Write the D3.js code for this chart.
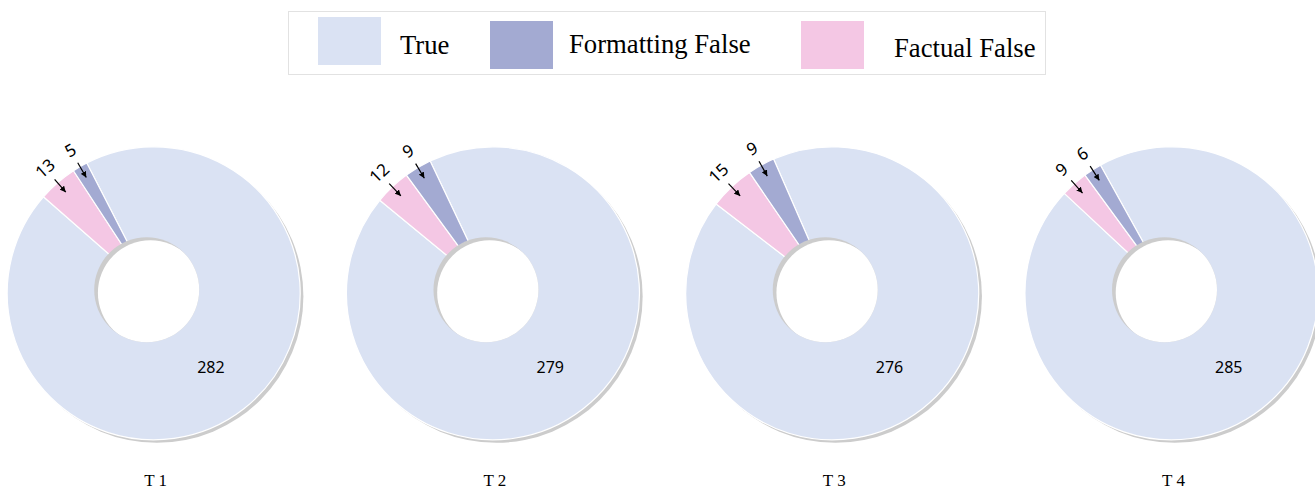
<!DOCTYPE html>
<html><head><meta charset="utf-8">
<script src="https://cdn.jsdelivr.net/npm/d3@7"></script>
<style>body{margin:0;background:#fff}svg{display:block}</style>
</head><body><svg id="c" width="1315" height="489"></svg>
<script>
const titles = ["T 1", "T 2", "T 3", "T 4"];
const categories = ["True", "Formatting False", "Factual False"];
const trueVals = [282, 279, 276, 285];
const formattingVals = [5, 9, 9, 6];
const factualVals = [13, 12, 15, 9];
const colors = {"True": "#dae2f3", "Formatting False": "#a3aad2", "Factual False": "#f4c7e4"};

const svg = d3.select("#c");
const defs = svg.append("defs");
defs.append("marker").attr("id", "arr").attr("viewBox", "0 0 10 10")
  .attr("refX", 10).attr("refY", 5).attr("markerWidth", 6).attr("markerHeight", 6)
  .attr("markerUnits", "userSpaceOnUse").attr("orient", "auto")
  .append("path").attr("d", "M0,0 L10,5 L0,10 z").attr("fill", "#000");

// Legend
const lg = svg.append("g");
lg.append("rect").attr("x", 288.5).attr("y", 11.5).attr("width", 757).attr("height", 63)
  .attr("fill", "#fff").attr("stroke", "#e2e2e2");
const legendItems = [
  {sx: 318, sy: 17, tx: 400, ty: 54},
  {sx: 490, sy: 21, tx: 569, ty: 53},
  {sx: 801, sy: 21, tx: 894, ty: 57}
];
categories.forEach((c, i) => {
  const it = legendItems[i];
  lg.append("rect").attr("x", it.sx).attr("y", it.sy).attr("width", 63).attr("height", 48)
    .attr("fill", colors[c]);
  lg.append("text").attr("x", it.tx).attr("y", it.ty).text(c)
    .attr("font-family", "Liberation Serif, Times New Roman, serif").attr("font-size", 26.7).attr("fill", "#000");
});

const R = 146.5, rHole = 52.5, cy = 293.3;
const holeOff = [-7, -3.5], shOff = [3.2, 3];
const x = d3.scalePoint().domain(titles).range([153.7, 1171.5]);
const groupCenter = -38 * Math.PI / 180;
const arc = d3.arc().innerRadius(0).outerRadius(R);

titles.forEach((t, i) => {
  const total = trueVals[i] + formattingVals[i] + factualVals[i];
  const data = [
    {cat: "True", value: trueVals[i]},
    {cat: "Factual False", value: factualVals[i]},
    {cat: "Formatting False", value: formattingVals[i]}
  ];
  const small = (formattingVals[i] + factualVals[i]) / total * 2 * Math.PI;
  const s = groupCenter + small / 2;
  const pie = d3.pie().sort(null).value(d => d.value).startAngle(s).endAngle(s + 2 * Math.PI);
  const arcs = pie(data);
  const cx = x(t);
  const g = svg.append("g").attr("transform", `translate(${cx},${cy})`);

  // shadow
  g.append("circle").attr("cx", shOff[0]).attr("cy", shOff[1]).attr("r", R).attr("fill", "#cccccc");
  // wedges
  g.selectAll("path.w").data(arcs).join("path").attr("class", "w")
    .attr("d", arc).attr("fill", d => colors[d.data.cat])
    .attr("stroke", "#fff").attr("stroke-width", 1.2).attr("stroke-linejoin", "round");
  // hole with inner shadow
  const hx = holeOff[0], hy = holeOff[1];
  const cid = "hole" + i;
  defs.append("clipPath").attr("id", cid).append("circle").attr("cx", cx + hx).attr("cy", cy + hy).attr("r", rHole);
  g.append("circle").attr("cx", hx).attr("cy", hy).attr("r", rHole).attr("fill", "#cccccc");
  svg.append("circle").attr("clip-path", `url(#${cid})`)
    .attr("cx", cx + hx + shOff[0] + 0.5).attr("cy", cy + hy + shOff[1]).attr("r", rHole).attr("fill", "#fff");

  // labels
  arcs.forEach(a => {
    const mid = (a.startAngle + a.endAngle) / 2;
    const px = r => Math.sin(mid) * r, py = r => -Math.cos(mid) * r;
    if (a.data.cat === "True") {
      g.append("text").attr("x", px(93)).attr("y", py(93)).text(a.data.value)
        .attr("text-anchor", "middle").attr("dominant-baseline", "central")
        .attr("font-family", "Noto Sans, sans-serif").attr("font-size", 16).attr("fill", "#000");
    } else {
      g.append("line").attr("x1", px(151)).attr("y1", py(151)).attr("x2", px(134)).attr("y2", py(134))
        .attr("stroke", "#000").attr("stroke-width", 1.2).attr("marker-end", "url(#arr)");
      g.append("text").attr("transform", `translate(${px(166)},${py(166)}) rotate(${mid * 180 / Math.PI})`)
        .text(a.data.value).attr("text-anchor", "middle").attr("dominant-baseline", "central")
        .attr("font-family", "Noto Sans, sans-serif").attr("font-size", 17).attr("fill", "#000");
    }
  });

  svg.append("text").attr("x", cx + 2).attr("y", 486).text(t).attr("text-anchor", "middle")
    .attr("font-family", "Liberation Serif, Times New Roman, serif").attr("font-size", 17).attr("fill", "#000");
});
</script></body></html>
